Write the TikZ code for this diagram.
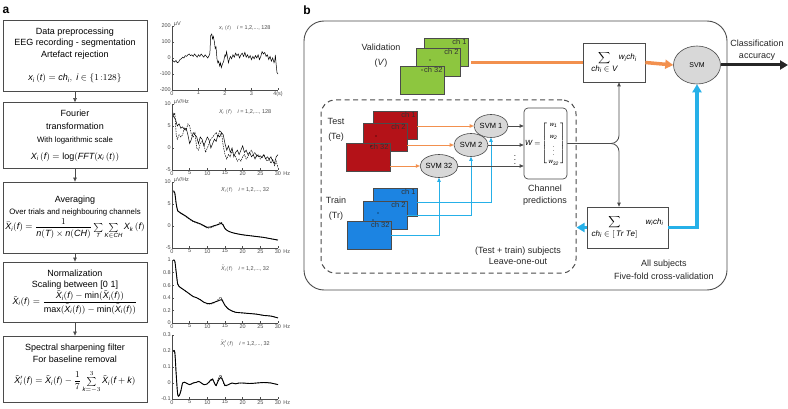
\documentclass[tikz,border=0pt]{standalone}
\usepackage{amsmath}
\usepackage{fontspec}
\setmainfont{Liberation Sans}
\usetikzlibrary{arrows.meta,shapes.geometric}
\definecolor{valgreen}{RGB}{141,198,63}
\definecolor{testred}{RGB}{180,18,24}
\definecolor{trainblue}{RGB}{28,132,226}
\definecolor{linkblue}{RGB}{38,176,232}
\definecolor{linkorange}{RGB}{242,144,78}
\definecolor{svmgray}{RGB}{216,216,216}
\definecolor{inkgray}{RGB}{75,75,75}
\newcommand{\specplot}[9]{%
  \begin{scope}[shift={(172,#2)},x=3.533pt,y=#3pt]
    \draw[axisline] (0,#5) -- (0,#4) -- (30,#4);
    \foreach \t in {0,5,...,30}{
      \draw[axisline] (\t,#4) -- ++(0,{1.8/#3});
      \node[ticklab,below] (#1x\t) at (\t,#4) {\t};
    }
    \node[ticklab,anchor=base west] (#1hz) at (#1x30.base east) {Hz};
    \foreach \v [count=\k] in {#6}{
      \draw[axisline] (0,\v) -- ++(0.5,0);
      \node[ticklab,left] (#1y\k) at (0,\v) {\v};
    }
    \node[ticklab,anchor=west,yshift=2pt] (#1unit) at (0.2,#5) {#8};
    \node[ticklab,anchor=north,yshift=-4pt] (#1title) at (20.7,#5) {#7};
    #9
  \end{scope}%
}

\begin{document}
\begin{tikzpicture}[x=1pt,y=-1pt,
  stepbox/.style={draw=inkgray,line width=0.8pt,minimum width=144pt,align=center,inner sep=0pt,font=\fontsize{9}{11.5}\selectfont},
  flow/.style={-{Triangle[length=4pt,width=3.5pt]},draw=inkgray,line width=0.6pt},
  axisline/.style={draw=inkgray,line width=0.4pt},
  ticklab/.style={font=\fontsize{5.5}{6}\selectfont,inner sep=1pt,text=inkgray},
  trace/.style={line width=0.5pt,black},
  card/.style={draw=inkgray,line width=0.4pt,minimum width=44pt,minimum height=28pt,inner sep=0pt},
  cardlab/.style={anchor=north east,inner sep=1.5pt,font=\fontsize{7.5}{8}\selectfont,text=black!80},
  svmnode/.style={ellipse,draw=inkgray,fill=svmgray,line width=0.6pt,minimum width=34pt,minimum height=23pt,inner sep=0pt,font=\fontsize{7.5}{8}\selectfont},
  lbl/.style={font=\fontsize{9}{11}\selectfont,align=center,inner sep=0pt,text=black!85},
  sumbox/.style={draw=inkgray,line width=0.7pt,inner sep=0pt,font=\fontsize{8}{9.5}\selectfont},
  thinlink/.style={-{Triangle[length=4pt,width=3.5pt]},line width=0.8pt},
  fatlink/.style={line width=3.5pt},
  fattip/.style={-{Triangle[length=8pt,width=9pt]}}]
  \useasboundingbox (0,0) rectangle (788,409);

  % panel a: processing chain
  \node[font=\bfseries\fontsize{12}{12}\selectfont] (panela) at (6,10) {a};
  \node[stepbox,minimum height=71pt] (prep) at (75,55.5) {Data preprocessing\\EEG recording - segmentation\\Artefact rejection\\[12pt]
    $\mathit{x_i}\,(\mathit{t}) = \mathit{ch_i},\ \mathit{i}\in\{1\,{:}128\}$};
  \node[stepbox,minimum height=66pt] (fourier) at (75,135.5) {Fourier\\[1.5pt]transformation\\[2pt]
    {\fontsize{7.8}{9}\selectfont With logarithmic scale}\\[5pt]
    $\mathit{X_i}\,(\mathit{f}) = \log(\mathit{FFT}(\mathit{x_i}\,(\mathit{t}))$};
  \node[stepbox,minimum height=71pt] (average) at (75,217.5) {Averaging\\[1pt]
    {\fontsize{7.8}{9}\selectfont Over trials and neighbouring channels}\\[1pt]
    $\bar{\mathit{X}}_{\mathit{i}}(\mathit{f}) = \dfrac{1}{\mathit{n(T)}\times\mathit{n(CH)}}\sum\limits_{\mathit{T}}\sum\limits_{\mathit{K}\in\mathit{CH}}\mathit{X_k}\,(\mathit{f})$};
  \node[stepbox,minimum height=60pt] (normal) at (75,292) {Normalization\\Scaling between [0 1]\\[0pt]
    $\tilde{\mathit{X}}_{\mathit{i}}(\mathit{f}) = \dfrac{\tilde{\mathit{X}}_{\mathit{i}}(\mathit{f})-\min(\tilde{\mathit{X}}_{\mathit{i}}(\mathit{f}))}{\max(\tilde{\mathit{X}}_{\mathit{i}}(\mathit{f}))-\min(\tilde{\mathit{X}}_{\mathit{i}}(\mathit{f}))}$};
  \node[stepbox,minimum height=66pt] (sharpen) at (75,369) {Spectral sharpening filter\\For baseline removal\\[7pt]
    $\tilde{\mathit{X}}'_{\mathit{i}}(\mathit{f}) = \tilde{\mathit{X}}_{\mathit{i}}(\mathit{f}) - \dfrac{1}{7}\sum\limits_{\mathit{k}=-3}^{3}\tilde{\mathit{X}}_{\mathit{i}}(\mathit{f}+\mathit{k})$};
  \draw[flow] (prep) -- (fourier);
  \draw[flow] (fourier) -- (average);
  \draw[flow] (average) -- (normal);
  \draw[flow] (normal) -- (sharpen);

  % raw signal
  \begin{scope}[shift={(172,58)},x=26.5pt,y=0.16pt]
    \draw[axisline] (0,200) -- (0,-200) -- (4,-200);
    \foreach \t/\s in {0/0,1/1,2/2,3/3,4/4(s)}{
      \draw[axisline] (\t,-200) -- ++(0,11);
      \node[ticklab,below] (rawx\t) at (\t,-200) {\s};
    }
    \foreach \v [count=\k] in {-200,-100,0,100,200}{
      \draw[axisline] (0,\v) -- ++(0.07,0);
      \node[ticklab,left] (rawy\k) at (0,\v) {\v};
    }
    \node[ticklab,anchor=west,yshift=2pt] (rawunit) at (0.03,200) {µV};
    \node[ticklab,anchor=north] (rawtitle) at (2.75,212) {$\mathit{x_i}\,(\mathit{t})$\quad $\mathit{i}$ = 1,2,..., 128};
    \draw[trace] plot coordinates {(0,-10)(0.05,-20)(0.1,-25)(0.15,-15)(0.2,-30)(0.25,-25)(0.3,-10)(0.35,-5)(0.4,5)(0.45,0)(0.5,15)(0.55,10)(0.6,20)(0.65,25)(0.7,15)(0.75,20)(0.8,10)(0.85,25)(0.9,15)(0.95,5)(1.0,20)(1.05,10)(1.1,25)(1.15,15)(1.2,5)(1.25,20)(1.3,10)(1.35,0)(1.4,15)(1.43,30)(1.46,140)(1.5,150)(1.53,120)(1.56,135)(1.6,100)(1.63,60)(1.66,70)(1.7,-10)(1.73,-30)(1.76,-20)(1.8,-50)(1.83,-30)(1.86,-60)(1.9,-40)(1.95,-20)(2.0,20)(2.03,10)(2.06,40)(2.1,0)(2.13,-30)(2.16,-10)(2.2,10)(2.25,-5)(2.3,20)(2.35,5)(2.4,30)(2.45,15)(2.5,25)(2.55,0)(2.6,20)(2.65,30)(2.7,10)(2.75,35)(2.8,5)(2.85,20)(2.9,0)(2.95,15)(3.0,-10)(3.05,10)(3.1,-5)(3.15,15)(3.2,0)(3.25,20)(3.3,-10)(3.35,10)(3.4,40)(3.45,25)(3.5,35)(3.55,10)(3.6,20)(3.65,-10)(3.7,10)(3.75,-20)(3.8,0)(3.85,-30)(3.88,-15)(3.9,20)(3.93,-40)(3.96,-90)(4.0,-100)};
  \end{scope}

  % spectra
  \specplot{fft}{148}{4.4}{-5}{10}{-5,0,5,10}{$\mathit{X_i}\,(\mathit{f})$\quad $\mathit{i}$ = 1,2,..., 128}{µV/Hz}{
    \draw[trace] plot coordinates {(0.3,8)(0.6,7)(1,6.5)(1.5,5)(2,5.5)(2.5,4.5)(3,4.8)(3.5,4.2)(4,4.5)(4.5,3)(5,1)(5.5,2)(6,3.5)(6.5,3)(7,2.5)(7.5,1)(8,2.5)(8.5,2)(9,0.5)(9.5,1.5)(10,2.5)(10.5,1.8)(11,0)(11.5,1)(12,2)(12.5,1.5)(13,3)(13.5,2.5)(14,3.5)(14.5,3)(15,1)(15.5,-0.5)(16,0.5)(16.5,-1)(17,0)(17.5,-2)(18,-1)(18.5,-0.5)(19,-1.5)(19.5,-0.5)(20,0.5)(20.5,-1)(21,-0.5)(21.5,-1.5)(22,-1)(22.5,-2)(23,-1.5)(23.5,-2.5)(24,-1.5)(24.5,-2)(25,-1.8)(25.5,-2.2)(26,-1.5)(26.5,-2.5)(27,-2)(27.5,-2.5)(28,-2)(28.5,-3)(29,-3.5)(29.5,-2)(30,-1.5)};
    \draw[trace,dashed,dash pattern=on 1.5pt off 1pt] plot coordinates {(0.3,7)(0.8,8)(1.2,3)(1.5,2)(2,3)(2.5,2.5)(3,3)(3.5,4.5)(4,4)(4.5,5.5)(5,5)(5.5,3)(6,2.5)(6.5,3.5)(7,0)(7.5,-0.5)(8,1)(8.5,1.5)(9,1)(9.5,-1)(10,0)(10.5,1)(11,2)(11.5,2.5)(12,3)(12.5,3.5)(13,2.5)(13.5,4)(14,3.5)(14.5,0.5)(15,-1.5)(15.5,-2.5)(16,-1.5)(16.5,-2)(17,-0.5)(17.5,-1.5)(18,-2)(18.5,-3)(19,-2.5)(19.5,-3)(20,-2)(20.5,-1.5)(21,-2.5)(21.5,-2)(22,-1)(22.5,-0.5)(23,-1.5)(23.5,-1)(24,-2)(24.5,-1.5)(25,-2.5)(25.5,-2)(26,-1.5)(26.5,-2.5)(27,-3)(27.5,-2.5)(28,-3.5)(28.5,-2.5)(29,-4)(29.5,-3)(30,-4.5)};
  }
  \specplot{avg}{226}{4.4}{-5}{10}{-5,0,5,10}{$\bar{\mathit{X}}_{\mathit{i}}(\mathit{f})$\quad $\mathit{i}$ = 1,2,..., 32}{µV/Hz}{
    \draw[trace,dashed,dash pattern=on 1.5pt off 1pt] plot[smooth] coordinates {(0.4,7.8)(0.8,7.3)(1.2,5)(1.6,3.4)(2,3.1)(3,2.6)(4,2.1)(5,1.5)(6,1)(7,0.7)(8,0.4)(9,0)(10,-0.5)(11,-0.4)(12,-0.1)(13,0.4)(13.8,0.9)(14.5,0.3)(15,-0.6)(16,-1.2)(17,-1.5)(18,-1.7)(20,-2)(22,-2.2)(24,-2.4)(26,-2.6)(28,-2.9)(30,-3.2)};
    \draw[trace,line width=0.9pt] plot[smooth] coordinates {(0.4,8)(0.8,7.5)(1.2,5)(1.6,3.5)(2,3.2)(3,2.7)(4,2.2)(5,1.6)(6,1.1)(7,0.8)(8,0.5)(9,0.1)(10,-0.3)(11,-0.2)(12,0.1)(13,0.3)(14,0.6)(14.5,0.2)(15,-0.6)(16,-1.2)(17,-1.5)(18,-1.7)(20,-2)(22,-2.2)(24,-2.4)(26,-2.6)(28,-2.9)(30,-3.2)};
  }
  \specplot{nrm}{323}{63}{0}{1}{0,0.2,0.4,0.6,0.8,1}{$\tilde{\mathit{X}}_{\mathit{i}}(\mathit{f})$\quad $\mathit{i}$ = 1,2,..., 32}{}{
    \draw[trace,dashed,dash pattern=on 1.5pt off 1pt] plot[smooth] coordinates {(0.4,1)(0.8,0.98)(1.2,0.8)(1.6,0.62)(2,0.58)(3,0.54)(4,0.5)(5,0.46)(6,0.42)(7,0.4)(8,0.37)(9,0.33)(10,0.3)(11,0.3)(12,0.32)(13,0.37)(13.8,0.41)(14.5,0.34)(15,0.28)(16,0.22)(17,0.19)(18,0.17)(20,0.16)(22,0.15)(24,0.14)(26,0.12)(28,0.11)(30,0.08)};
    \draw[trace,line width=0.9pt] plot[smooth] coordinates {(0.4,1)(0.8,0.98)(1.2,0.8)(1.6,0.62)(2,0.58)(3,0.54)(4,0.5)(5,0.46)(6,0.42)(7,0.4)(8,0.37)(9,0.33)(10,0.31)(11,0.31)(12,0.33)(13,0.35)(14,0.37)(14.5,0.33)(15,0.28)(16,0.22)(17,0.19)(18,0.17)(20,0.16)(22,0.15)(24,0.14)(26,0.12)(28,0.11)(30,0.08)};
  }
  \specplot{shp}{383}{160}{-0.1}{0.3}{-0.1,0,0.1,0.2,0.3}{$\tilde{\mathit{X}}'_{\mathit{i}}(\mathit{f})$\quad $\mathit{i}$ = 1,2,..., 32}{}{
    \draw[trace,dashed,dash pattern=on 1.5pt off 1pt] plot[smooth] coordinates {(0.4,0.2)(0.8,0.19)(1.2,0.05)(1.6,-0.07)(2,-0.08)(2.5,-0.05)(3,0)(3.5,0.005)(4,0)(5,-0.01)(6,0)(7,0.005)(7.5,0.01)(8,0.005)(9,-0.01)(10,-0.005)(11,0.015)(11.5,0.02)(12,0)(12.5,-0.02)(13,0.02)(13.8,0.05)(14.5,0.005)(15,-0.02)(16,-0.01)(17,0)(18,-0.005)(19,0)(20,0)(22,-0.003)(24,0)(26,0.003)(28,0)(29,-0.005)(30,-0.01)};
    \draw[trace,line width=0.9pt] plot[smooth] coordinates {(0.4,0.2)(0.8,0.19)(1.2,0.05)(1.6,-0.07)(2,-0.08)(2.5,-0.05)(3,0)(3.5,0.005)(4,0)(5,-0.01)(6,0)(7,0.005)(7.5,0.01)(8,0.005)(9,-0.01)(10,-0.005)(11,0.02)(11.5,0.025)(12,0)(12.5,-0.015)(13,0.01)(13.8,0.035)(14.5,0.01)(15,-0.015)(16,-0.01)(17,0)(18,-0.005)(19,0)(20,0)(22,-0.003)(24,0)(26,0.003)(28,0)(29,-0.005)(30,-0.01)};
  }

  % panel b: classification scheme
  \node[font=\bfseries\fontsize{12}{12}\selectfont] (panelb) at (307,10) {b};
  \node[draw=inkgray,line width=0.9pt,rounded corners=20pt,minimum width=423pt,minimum height=269pt] (frame) at (515.5,155.5) {};
  \node[draw=inkgray,line width=1pt,dashed,dash pattern=on 5pt off 3.5pt,rounded corners=14pt,minimum width=255pt,minimum height=173pt] (loo) at (448.5,186.5) {};

  \node[lbl] (valtxt) at (381,55.5) {Validation\\[4pt](\textit{V})};
  \node[lbl] (tetxt) at (336,129.5) {Test\\[4pt](Te)};
  \node[lbl] (trtxt) at (336,208.5) {Train\\[4pt](Tr)};

  \node[card,fill=valgreen,label={[cardlab]north east:ch 1}] (va1) at (446,52) {};
  \node[card,fill=valgreen,label={[cardlab]north east:ch 2}] (va2) at (438,62) {};
  \node[card,fill=valgreen,label={[cardlab]north east:ch 32}] (va3) at (422,80) {};
  \node[card,fill=testred,label={[cardlab]north east:ch 1}] (te1) at (395,125) {};
  \node[card,fill=testred,label={[cardlab]north east:ch 2}] (te2) at (385,137) {};
  \node[card,fill=testred,label={[cardlab]north east:ch 32}] (te3) at (368,157) {};
  \node[card,fill=trainblue,label={[cardlab]north east:ch 1}] (tr1) at (395,202) {};
  \node[card,fill=trainblue,label={[cardlab]north east:ch 2}] (tr2) at (385,215) {};
  \node[card,fill=trainblue,label={[cardlab]north east:ch 32}] (tr3) at (369,235) {};
  \foreach \p in {(430,60),(422,70),(376,136),(371,146),(378,213),(373,220),(460,151),(453,158)}
    \fill[black] \p circle (0.7pt);

  \node[svmnode] (svmA) at (491,126) {SVM 1};
  \node[svmnode] (svmB) at (471,145) {SVM 2};
  \node[svmnode] (svmC) at (439,166) {SVM 32};

  \draw[thinlink,linkorange] (te1.east |- svmA.west) -- (svmA.west);
  \draw[thinlink,linkorange] (te2.east |- svmB.west) -- (svmB.west);
  \draw[thinlink,linkorange] (te3.east |- svmC.west) -- (svmC.west);
  \draw[thinlink,linkblue] (tr1.east) -| (svmA.south);
  \draw[thinlink,linkblue] (tr2.east) -| (svmB.south);
  \draw[thinlink,linkblue] (tr3.east) -| (svmC.south);

  \node[draw=inkgray,line width=0.7pt,rounded corners=4pt,minimum width=43pt,minimum height=71pt,inner sep=0pt,font=\fontsize{7.5}{8}\selectfont] (wmat) at (545.5,143.5)
    {$\mathit{W}=\!\left[\fontsize{6}{7}\selectfont\begin{array}{@{\,}c@{\,}}\mathit{w_1}\\[5pt]\mathit{w_2}\\[1pt]\vdots\\[1pt]\mathit{w_{32}}\end{array}\right]$};
  \draw[thinlink,inkgray] (svmA.east) -- (svmA.east -| wmat.west);
  \draw[thinlink,inkgray] (svmB.east) -- (svmB.east -| wmat.west);
  \draw[thinlink,inkgray] (svmC.east) -- (svmC.east -| wmat.west);
  \node[font=\fontsize{8}{8}\selectfont,inner sep=0pt] (wdots) at (515,157) {$\vdots$};
  \node[lbl] (chanpred) at (545,195) {Channel\\[1pt]predictions};
  \node[lbl] (lootxt) at (518,255.5) {(Test + train) subjects\\Leave-one-out};

  \node[sumbox,minimum width=62pt,minimum height=39pt] (sumV) at (614,62.5)
    {$\displaystyle\sum_{\textstyle\mathit{ch_i}\in\mathit{V}}\mathit{w_i ch_i}$};
  \node[sumbox,minimum width=81pt,minimum height=41pt] (sumT) at (627.5,227.5)
    {$\underset{\textstyle\mathit{ch_i}\in[\,\mathit{Tr\ Te}]}{\displaystyle\sum}\quad\mathit{w_i ch_i}$};
  \node[svmnode,minimum width=47pt,minimum height=38pt,font=\fontsize{7}{8}\selectfont] (svm) at (697,65) {SVM};

  \coordinate (split) at (619,143.5);
  \draw[thinlink,inkgray,rounded corners=8pt] (wmat.east) -- (split) -- (split |- sumV.south);
  \draw[thinlink,inkgray,rounded corners=8pt] (wmat.east) -- (split) -- (split |- sumT.north);

  \draw[fatlink,linkorange,shorten <=3pt] (va1.east |- sumV.west) -- (sumV.west);
  \draw[fatlink,fattip,linkorange] (sumV.east) -- (svm.west);
  \draw[fatlink,fattip,linkblue] (sumT.east) -| (svm.south);
  \draw[fatlink,fattip,linkblue] (sumT.west) -- (sumT.west -| loo.east);

  \coordinate (accend) at (788,65);
  \draw[line width=3pt,black!85,-{Triangle[length=8pt,width=9pt]}] (svm.east) -- (accend);
  \node[lbl] (acctxt) at (757,50) {Classification\\[1pt]accuracy};
  \node[lbl] (cvtxt) at (664,269.5) {All subjects\\[2pt]Five-fold cross-validation};
\end{tikzpicture}
\end{document}
